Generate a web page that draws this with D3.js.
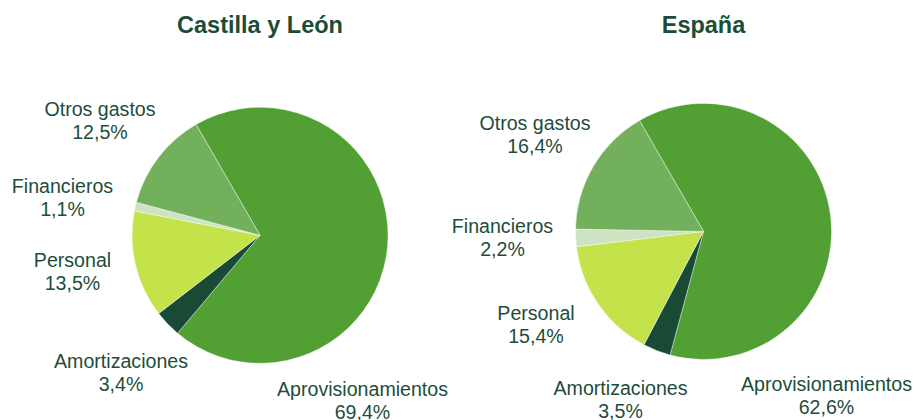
<!DOCTYPE html>
<html lang="es">
<head>
<meta charset="utf-8">
<title>Estructura de gastos</title>
<style>
   html,body { margin:0; padding:0; background:white; }
   svg { display:block; font-family:"Liberation Sans", Arial, sans-serif; }
</style>
<script src="https://d3js.org/d3.v7.min.js"></script>
</head>
<body>
<script>
// data, in the order the slices are drawn (clockwise)
let categories = ['Aprovisionamientos','Amortizaciones','Personal','Financieros','Otros gastos'];
let castillaValues = [69.4, 3.4, 13.5, 1.1, 12.5];
let espanaValues = [62.6, 3.5, 15.4, 2.2, 16.4];
let titles = ['Castilla y León','España'];

// styling / layout
let colors = ['#529f33','#184a36','#c4e34b','#cce3c4','#73b05c'];
let textColor = '#1e4d3b';
let width = 914, height = 420;
let radius = 128;
// first-baseline offset of each label from its pie centre
let labelOffsets = [
   [[102.5,161],[-139,132.5],[-187.5,32],[-197.5,-42],[-160,-119.5]],
   [[123,160],[-83,163.5],[-167.5,88.5],[-201,1.2],[-168.5,-101.5]],
];
let charts = [
   {title:titles[0], values:castillaValues, cx:260, cy:235.3, labels:labelOffsets[0]},
   {title:titles[1], values:espanaValues, cx:703.5, cy:231.4, labels:labelOffsets[1]},
];

function fpct(v) { return v.toFixed(1).replace('.',',')+'%'; };

const svg = d3.select('body').append('svg')
   .attr('width',width).attr('height',height);

let start = -30*Math.PI/180;
let pie = d3.pie().sort(null).startAngle(start).endAngle(start+2*Math.PI);
let arc = d3.arc().innerRadius(0).outerRadius(radius);
let color = d3.scaleOrdinal().domain(categories).range(colors);

for (let c of charts) {
   let data = c.values.map((v,i) => ({cat:categories[i], value:v, i:i}));
   let g = svg.append('g').attr('transform',`translate(${c.cx},${c.cy})`);
   g.selectAll('path')
      .data(pie.value(d => d.value)(data))
      .join('path')
      .attr('d',arc)
      .attr('fill',d => color(d.data.cat))
      .attr('stroke','white')
      .attr('stroke-width',0.4);
   let lab = g.selectAll('text.lab')
      .data(data)
      .join('text')
      .attr('class','lab')
      .attr('text-anchor','middle')
      .attr('fill',textColor)
      .style('font-size','19.6px')
      .attr('transform',d => `translate(${c.labels[d.i][0]},${c.labels[d.i][1]})`);
   lab.append('tspan').attr('x',0).attr('y',0).text(d => d.cat);
   lab.append('tspan').attr('x',0).attr('y',23).text(d => fpct(d.value));
   svg.append('text')
      .attr('x',c.cx).attr('y',33)
      .attr('text-anchor','middle')
      .attr('fill','#1b4d36')
      .style('font-size','23.5px')
      .style('font-weight','bold')
      .text(c.title);
};
</script>
</body>
</html>
